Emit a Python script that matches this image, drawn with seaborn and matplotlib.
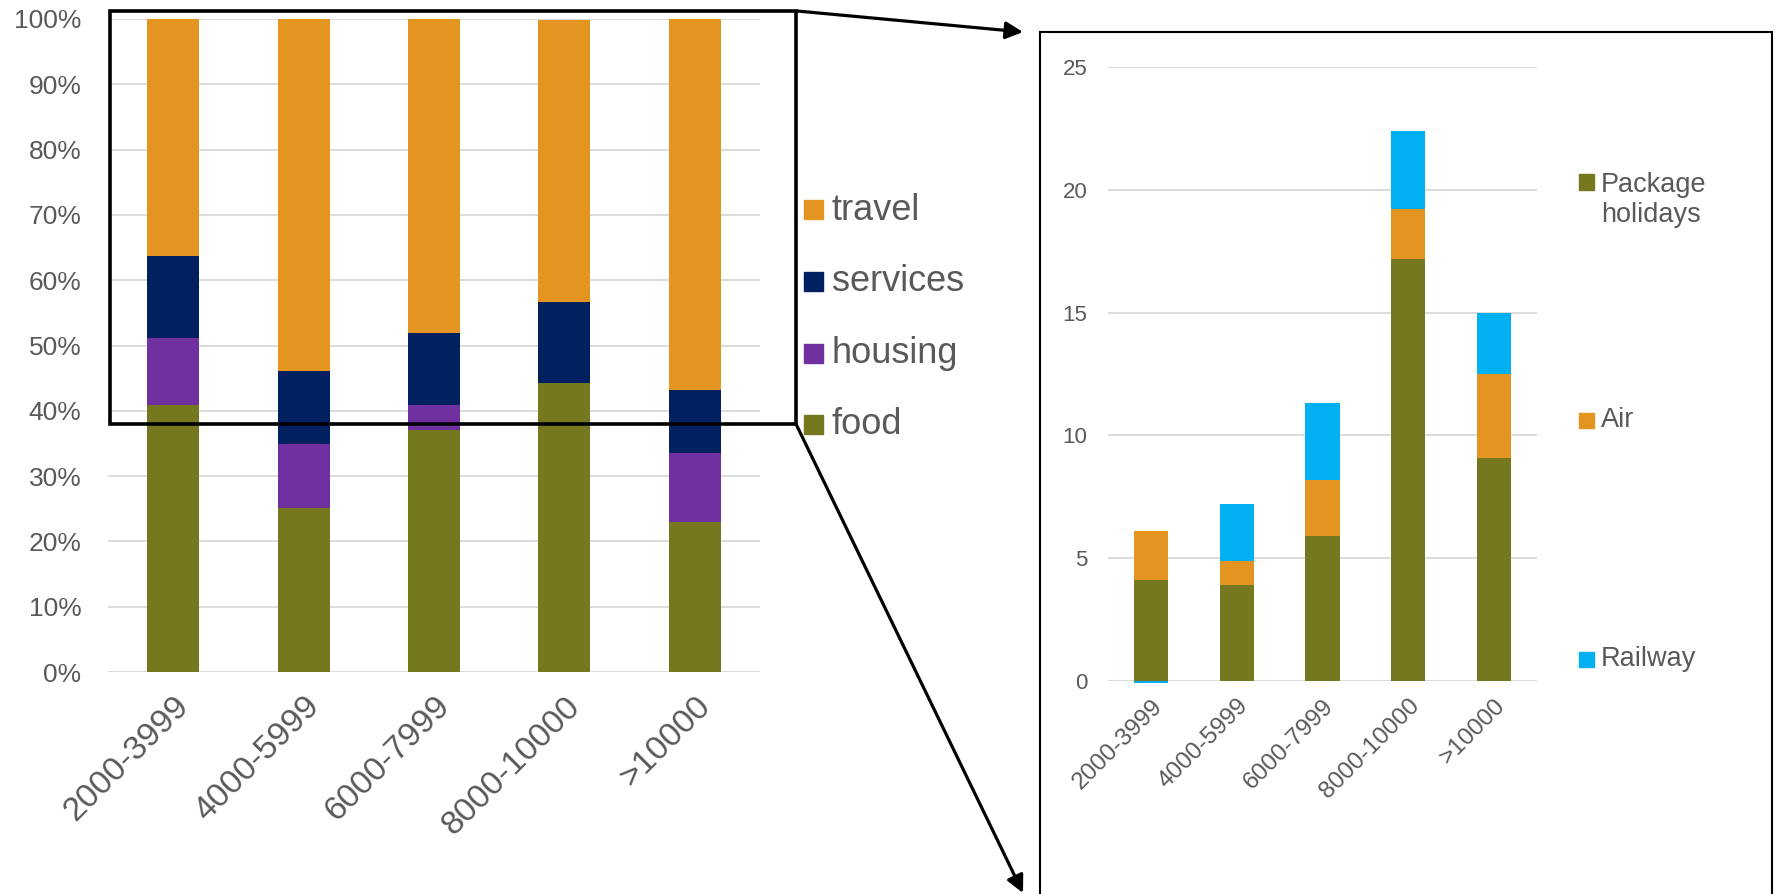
import matplotlib
matplotlib.use("Agg")
import matplotlib.pyplot as plt
import seaborn as sns
import numpy as np
from matplotlib.patches import Rectangle, FancyArrowPatch
from matplotlib.ticker import PercentFormatter, MultipleLocator

# ---- data -------------------------------------------------------------
income_groups = ["2000-3999", "4000-5999", "6000-7999", "8000-10000", ">10000"]

# spending shares (percent of total)
food = [40.9, 25.1, 37.1, 44.2, 23.0]
housing = [10.2, 9.8, 3.8, 0.0, 10.6]
services = [12.6, 11.2, 11.0, 12.5, 9.6]
travel = [36.3, 53.9, 48.1, 43.1, 56.8]

# travel spending breakdown
package_holidays = [4.1, 3.9, 5.9, 17.2, 9.1]
air = [2.0, 1.0, 2.3, 2.0, 3.4]
railway = [-0.1, 2.3, 3.1, 3.2, 2.5]

share_labels = ["food", "housing", "services", "travel"]
travel_labels = ["Package\nholidays", "Air", "Railway"]

# ---- style ------------------------------------------------------------
OLIVE = "#75781F"
PURPLE = "#7030A0"
NAVY = "#002060"
ORANGE = "#E39421"
CYAN = "#00B0F0"
GRID = "#D9D9D9"
TEXT = "#595959"

sns.set_theme(style="white")
plt.rcParams["font.family"] = ["Liberation Sans", "DejaVu Sans"]
plt.rcParams["text.color"] = TEXT
plt.rcParams["xtick.color"] = TEXT
plt.rcParams["ytick.color"] = TEXT

W, H = 1781, 894
fig = plt.figure(figsize=(W / 100, H / 100), dpi=100)


def fx(px):
    return px / W


def fy(py):
    return 1 - py / H


def stacked(ax, layers, colors):
    bottom = np.zeros(len(income_groups))
    neg_bottom = np.zeros(len(income_groups))
    for vals, col in zip(layers, colors):
        vals = np.asarray(vals, dtype=float)
        base = np.where(vals >= 0, bottom, neg_bottom)
        sns.barplot(x=income_groups, y=vals, order=income_groups, color=col,
                    saturation=1, width=0.4, bottom=base, linewidth=0,
                    ax=ax, clip_on=False)
        bottom = bottom + np.clip(vals, 0, None)
        neg_bottom = neg_bottom + np.clip(vals, None, 0)


def style_axes(ax):
    sns.despine(ax=ax, left=True, bottom=True)
    ax.set_axisbelow(True)
    ax.yaxis.grid(True, color=GRID, linewidth=1.3)
    ax.xaxis.grid(False)
    ax.set_xlabel("")
    ax.set_ylabel("")
    ax.set_xlim(-0.5, len(income_groups) - 0.5)


def slant_labels(ax):
    for lab in ax.get_xticklabels():
        lab.set_rotation(45)
        lab.set_ha("right")
        lab.set_va("top")
        lab.set_rotation_mode("anchor")


# ---- left: spending shares ---------------------------------------------
ax1 = fig.add_axes([fx(108), fy(672), fx(760) - fx(108), fy(19) - fy(672)])
stacked(ax1, [food, housing, services, travel], [OLIVE, PURPLE, NAVY, ORANGE])
style_axes(ax1)
ax1.set_ylim(0, 100)
ax1.yaxis.set_major_locator(MultipleLocator(10))
ax1.yaxis.set_major_formatter(PercentFormatter(xmax=100, decimals=0))
ax1.tick_params(axis="y", length=0, pad=19, labelsize=19)
ax1.tick_params(axis="x", length=0, pad=13.5, labelsize=24.3)
slant_labels(ax1)

# ---- right: travel breakdown -------------------------------------------
ax2 = fig.add_axes([fx(1108), fy(681), fx(1537) - fx(1108), fy(67) - fy(681)])
stacked(ax2, [package_holidays, air, railway], [OLIVE, ORANGE, CYAN])
style_axes(ax2)
ax2.set_ylim(0, 25)
ax2.yaxis.set_major_locator(MultipleLocator(5))
ax2.tick_params(axis="y", length=0, pad=15, labelsize=16)
ax2.tick_params(axis="x", length=0, pad=10, labelsize=17.6)
slant_labels(ax2)

# ---- legends -----------------------------------------------------------
left_legend = list(zip(share_labels, [OLIVE, PURPLE, NAVY, ORANGE]))[::-1]
for i, (lab, col) in enumerate(left_legend):
    cy = 210 + i * 71.6
    fig.patches.append(Rectangle((fx(804), fy(cy + 9.5)), fx(19), 19 / H,
                                 transform=fig.transFigure, color=col))
    fig.text(fx(832), fy(cy), lab, fontsize=26, va="center", ha="left")

right_legend = [(travel_labels[0], OLIVE, 182, 200),
                (travel_labels[1], ORANGE, 420, 420),
                (travel_labels[2], CYAN, 659, 659)]
for lab, col, sy, ty in right_legend:
    fig.patches.append(Rectangle((fx(1579), fy(sy + 7.5)), fx(15), 15 / H,
                                 transform=fig.transFigure, color=col))
    fig.text(fx(1601), fy(ty), lab, fontsize=19.5, va="center", ha="left",
             linespacing=1.2)

# ---- zoom frame and connector arrows -----------------------------------
fig.patches.append(Rectangle((fx(110), fy(424)), fx(796) - fx(110), fy(11) - fy(424),
                             transform=fig.transFigure, fill=False,
                             edgecolor="black", linewidth=2.6, zorder=5))
fig.patches.append(Rectangle((fx(1040), fy(905)), fx(1772) - fx(1040), fy(32) - fy(905),
                             transform=fig.transFigure, fill=False,
                             edgecolor="black", linewidth=1.5, zorder=5))
for (x0, y0), (x1, y1) in [((797, 11), (1023, 32)), ((796, 424), (1023, 893))]:
    fig.patches.append(FancyArrowPatch((fx(x0), fy(y0)), (fx(x1), fy(y1)),
                                       transform=fig.transFigure,
                                       arrowstyle="-|>", mutation_scale=26,
                                       linewidth=2.3, color="black",
                                       shrinkA=0, shrinkB=0, zorder=6))

fig.savefig("out.png", dpi=100)
